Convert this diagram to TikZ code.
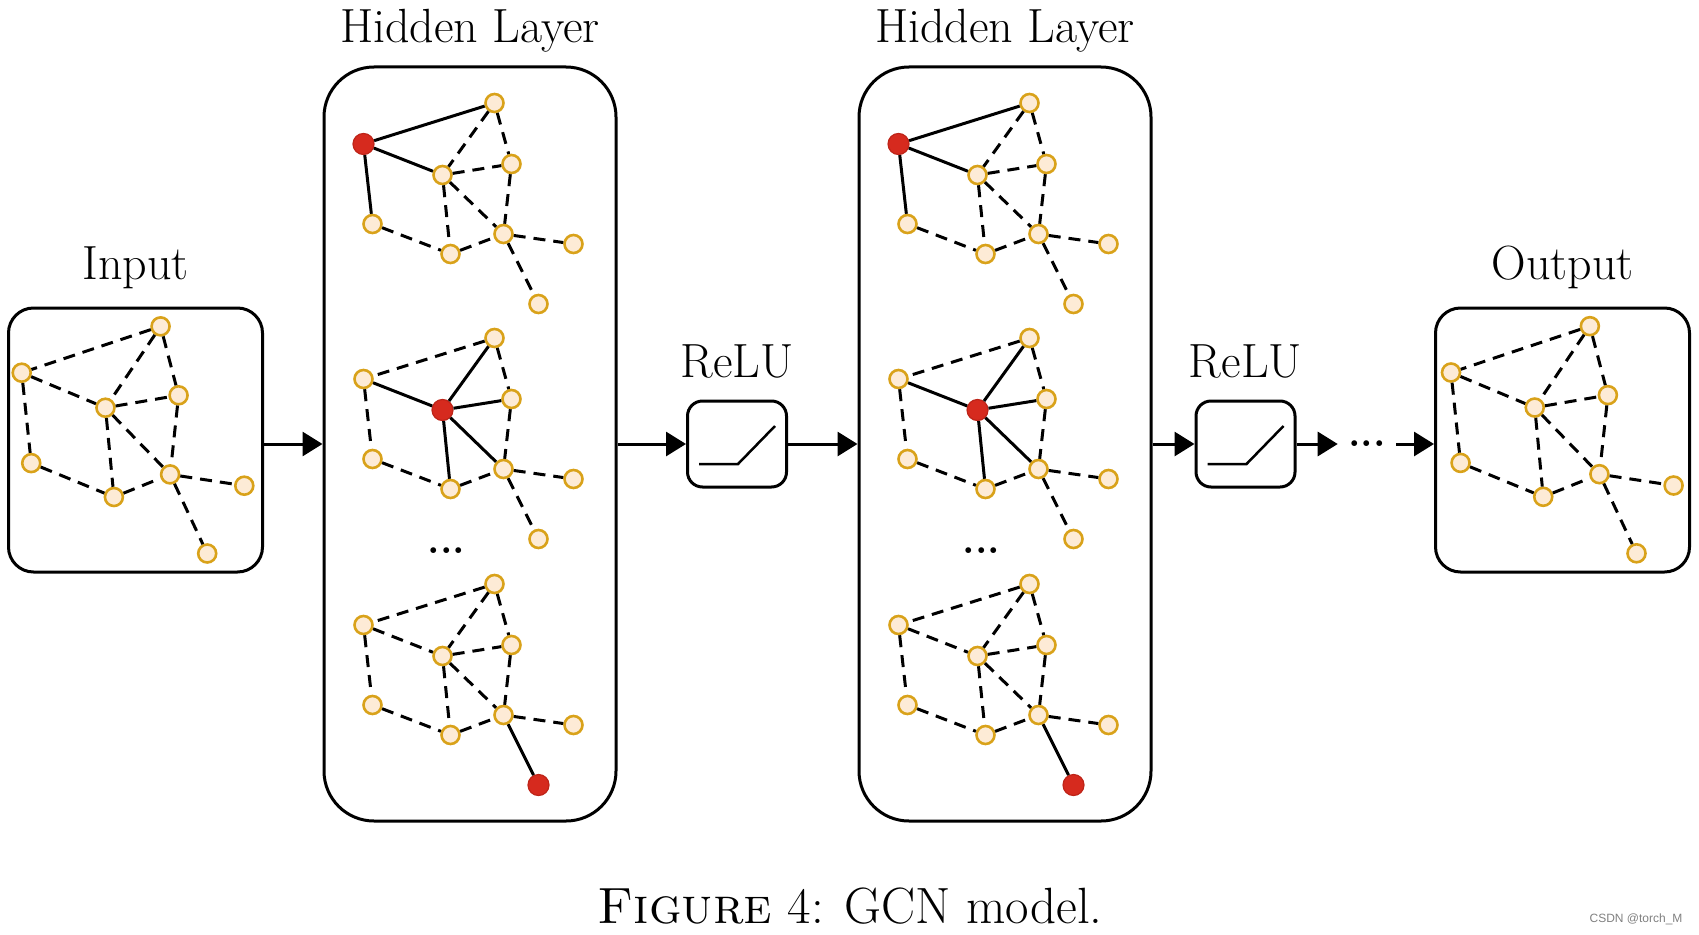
\documentclass[tikz,border=0pt]{standalone}
\usepackage{fontspec}
\usepackage{tikz}
\usetikzlibrary{arrows.meta, positioning}

\newfontfamily\markfont{Liberation Sans}

\definecolor{vtxline}{HTML}{D9A21A}
\definecolor{vtxfill}{HTML}{FDEBD6}
\definecolor{hotfill}{HTML}{D62A1E}
\definecolor{hotline}{HTML}{BE2418}

% one small graph: #1 name prefix, #2 number of the red node (0 = none)
\newcommand{\gcngraph}[2]{%
  \foreach \n/\p in {1/{131,-41}, 2/{0,0}, 3/{79,31}, 4/{148,20}, 5/{9,80},
                     6/{87,110}, 7/{140,90}, 8/{210,100}, 9/{175,160}}{%
    \ifnum\n=#2 \node[hot] (#1\n) at (\p) {};
    \else \node[vtx] (#1\n) at (\p) {}; \fi}
  \foreach \a/\b in {1/2,2/3,1/3,1/4,3/4,2/5,3/6,3/7,4/7,5/6,6/7,7/8,7/9}{%
    \def\linkstyle{link}%
    \ifnum\a=#2 \def\linkstyle{hotlink}\fi
    \ifnum\b=#2 \def\linkstyle{hotlink}\fi
    \draw[\linkstyle] (#1\a) -- (#1\b);}}

\begin{document}
\begin{tikzpicture}[x = 1pt, y = -1pt, % pixel units, y goes down
                    line width = 3pt, % line style
                    > = {Triangle[length = 20pt, width = 24pt]} % arrow head style
                   ]

  \tikzstyle{vtx}=[circle, draw = vtxline, fill = vtxfill, line width = 2.6pt,
  minimum size = 18pt, inner sep = 0pt]
  \tikzstyle{hot}=[circle, draw = hotline, fill = hotfill, line width = 1.2pt,
  minimum size = 21pt, inner sep = 0pt]
  \tikzstyle{link}=[dash pattern = on 12pt off 8pt]
  \tikzstyle{hotlink}=[solid]
  \tikzstyle{panel}=[draw, rounded corners = 25pt, minimum width = 254pt,
  minimum height = 264pt]
  \tikzstyle{layer}=[draw, rounded corners = 50pt, minimum width = 292pt,
  minimum height = 754pt]
  \tikzstyle{relu}=[draw, rounded corners = 15pt, minimum width = 99pt,
  minimum height = 86pt]
  \tikzstyle{title}=[anchor = base, font = \fontsize{48}{52}\selectfont]
  \tikzstyle{more}=[font = \fontsize{40}{40}\selectfont\bfseries, inner sep = 0pt]

  \useasboundingbox (0,0) rectangle (1699,934);

  \node[panel] (inbox) at (135.5,440) {}; \node[layer] (h1box) at (470,444) {};
  \node[relu] (r1box) at (737,444) {}; \node[layer] (h2box) at (1005,444) {};
  \node[relu] (r2box) at (1245.5,444) {}; \node[panel] (outbox) at (1562.5,440) {};

  \draw[line width = 2.5pt] ([shift = {(-38,20)}]r1box.center) -- ++(39,0) -- ++(37,-38);
  \draw[line width = 2.5pt] ([shift = {(-38,20)}]r2box.center) -- ++(39,0) -- ++(37,-38);

  \begin{scope}[shift = {(21.7,372.7)}, xscale = 1.06, yscale = 1.13] \gcngraph{in}{0} \end{scope}
  \begin{scope}[shift = {(363.5,144)}] \gcngraph{ha}{2} \end{scope}
  \begin{scope}[shift = {(363.5,379)}] \gcngraph{hb}{3} \end{scope}
  \begin{scope}[shift = {(363.5,625)}] \gcngraph{hc}{9} \end{scope}
  \begin{scope}[shift = {(898.5,144)}] \gcngraph{ja}{2} \end{scope}
  \begin{scope}[shift = {(898.5,379)}] \gcngraph{jb}{3} \end{scope}
  \begin{scope}[shift = {(898.5,625)}] \gcngraph{jc}{9} \end{scope}
  \begin{scope}[shift = {(1451,372.5)}, xscale = 1.06, yscale = 1.13] \gcngraph{out}{0} \end{scope}

  \node[more] (h1dots) at (446.5,551) {...}; \node[more] (h2dots) at (981.5,551) {...};
  \node[more, inner xsep = 9pt] (gap) at (1367,444) {...};

  \path[->] (inbox.east |- h1box) edge (h1box); \path[->] (h1box) edge (r1box);
  \path[->] (r1box) edge (h2box); \path[->] (h2box) edge (r2box);
  \path[->] (r2box) edge (gap); \path[->] (gap) edge (outbox.west |- gap);

  \node[title] (intitle) at (135.5,279) {Input};
  \node[title] (h1title) at (470,43) {Hidden Layer};
  \node[title] (r1title) at (737,377) {ReLU};
  \node[title] (h2title) at (1005,43) {Hidden Layer};
  \node[title] (r2title) at (1245.5,377) {ReLU};
  \node[title] (outtitle) at (1562.5,279) {Output};
  \node[anchor = base, font = \fontsize{51}{56}\selectfont] (caption) at (850,923)
  {\textsc{Figure} 4: GCN model.};
  \node[font = \markfont\fontsize{12}{12}\selectfont, text = gray] (mark) at (1636,919)
  {CSDN @torch\_M};
\end{tikzpicture}
\end{document}
